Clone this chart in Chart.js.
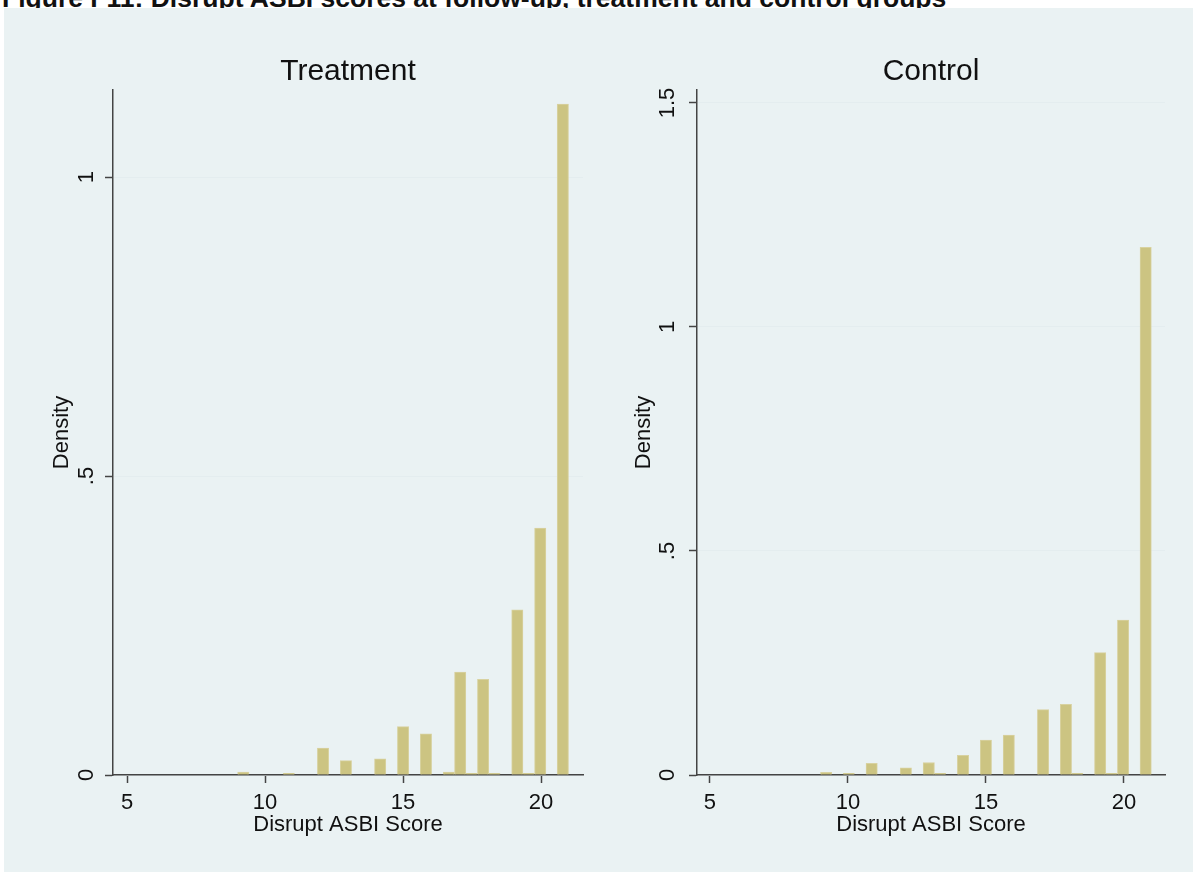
<!DOCTYPE html>
<html>
<head>
<meta charset="utf-8">
<title>Disrupt ASBI scores at follow-up</title>
<script src="https://cdn.jsdelivr.net/npm/chart.js@4.4.1/dist/chart.umd.min.js"></script>
<style>
  html, body { margin: 0; padding: 0; background: #fff; }
  body { width: 1197px; height: 878px; position: relative; overflow: hidden; font-family: "Liberation Sans", Arial, sans-serif; }
  #fig-title { position: absolute; left: 2px; top: -15px; font-size: 26.5px; line-height: 26.5px; font-weight: bold; color: #111; white-space: nowrap; z-index: 1; }
  #panel { position: absolute; left: 4px; top: 8px; width: 1189px; height: 864px; background: rgb(234,242,243); z-index: 2; }
  canvas { position: absolute; top: 0; z-index: 3; }
</style>
</head>
<body>
<div id="fig-title">Figure F11: Disrupt ASBI scores at follow-up, treatment and control groups</div>
<div id="panel"></div>
<canvas id="treatment" width="598" height="878" style="left:0px"></canvas>
<canvas id="control" width="599" height="878" style="left:598px"></canvas>
<script>
// histogram bins (centres), 29 bins from 9 to 21
const binCenters = [9.21, 9.62, 10.03, 10.45, 10.86, 11.28, 11.69, 12.10, 12.52, 12.93,
                    13.34, 13.76, 14.17, 14.59, 15.00, 15.41, 15.83, 16.24, 16.66, 17.07,
                    17.48, 17.90, 18.31, 18.72, 19.14, 19.55, 19.97, 20.38, 20.79];

const treatmentDensity = [0.005, 0, 0, 0, 0.003, 0, 0, 0.045, 0, 0.024,
                          0, 0, 0.027, 0, 0.081, 0, 0.069, 0, 0.005, 0.172,
                          0.003, 0.160, 0.003, 0, 0.276, 0.003, 0.413, 0, 1.122];

const controlDensity = [0.006, 0, 0.004, 0, 0.026, 0, 0, 0.016, 0, 0.028,
                        0.004, 0, 0.044, 0, 0.078, 0, 0.089, 0, 0, 0.146,
                        0, 0.158, 0.004, 0, 0.273, 0.004, 0.346, 0, 1.178];

const xTickValues = [5, 10, 15, 20];
const treatmentYTicks = [0, 0.5, 1];
const controlYTicks = [0, 0.5, 1, 1.5];

const fontFamily = "'Liberation Sans', Arial, sans-serif";
const axisColor = "#444";
const textColor = "#111";

const fmtTick = (v) => (v === 0 ? "0" : v < 1 ? String(v).slice(1) : String(v));

function makePanel(id, title, values, xRange, yMax, yTicks, pad, yTickPad, yTitlePad) {
  const ctx = document.getElementById(id).getContext("2d");
  return new Chart(ctx, {
    type: "bar",
    data: {
      datasets: [{
        data: binCenters.map((c, i) => ({ x: c, y: values[i] })),
        backgroundColor: "rgb(204,196,130)",
        borderColor: "rgb(216,210,160)",
        borderWidth: 1,
        barPercentage: 1,
        categoryPercentage: 1,
      }],
    },
    options: {
      responsive: false,
      animation: false,
      layout: { padding: pad },
      plugins: {
        legend: { display: false },
        tooltip: { enabled: false },
        title: {
          display: true,
          text: title,
          fullSize: false,
          color: textColor,
          font: { family: fontFamily, size: 30, weight: "normal", lineHeight: 1.2 },
          padding: { top: 54, bottom: 0 },
        },
      },
      scales: {
        x: {
          type: "linear",
          min: xRange[0],
          max: xRange[1],
          offset: false,
          afterBuildTicks: (s) => { s.ticks = xTickValues.map((v) => ({ value: v })); },
          afterFit: (s) => { s.height = 90; },
          grid: { offset: false, drawOnChartArea: false, tickLength: 8, tickWidth: 1.5, tickColor: axisColor },
          border: { color: axisColor, width: 1.5 },
          ticks: { color: textColor, padding: 7, maxRotation: 0, font: { family: fontFamily, size: 22 } },
          title: {
            display: true,
            text: "Disrupt ASBI Score",
            color: textColor,
            font: { family: fontFamily, size: 22, lineHeight: 1.2 },
            padding: { top: 0, bottom: 27 },
          },
        },
        y: {
          min: 0,
          max: yMax,
          afterBuildTicks: (s) => { s.ticks = yTicks.map((v) => ({ value: v })); },
          afterFit: (s) => { s.width = 70; },
          grid: { color: "rgb(228,237,239)", lineWidth: 1, tickLength: 8, tickWidth: 1.5, tickColor: axisColor },
          border: { color: axisColor, width: 1.5 },
          ticks: {
            color: textColor,
            padding: yTickPad,
            minRotation: 90,
            maxRotation: 90,
            crossAlign: "center",
            font: { family: fontFamily, size: 22 },
            callback: (v) => fmtTick(v),
          },
          title: {
            display: true,
            text: "Density",
            color: textColor,
            font: { family: fontFamily, size: 22, lineHeight: 1.2 },
            padding: { top: yTitlePad, bottom: 0 },
          },
        },
      },
    },
  });
}

makePanel("treatment", "Treatment", treatmentDensity, [4.49, 21.52], 1.1455, treatmentYTicks,
  { left: 43, right: 15, top: 0, bottom: 13 }, 9, 6);
makePanel("control", "Control", controlDensity, [4.53, 21.49], 1.529, controlYTicks,
  { left: 29, right: 32, top: 0, bottom: 13 }, 6, 4);
</script>
</body>
</html>
